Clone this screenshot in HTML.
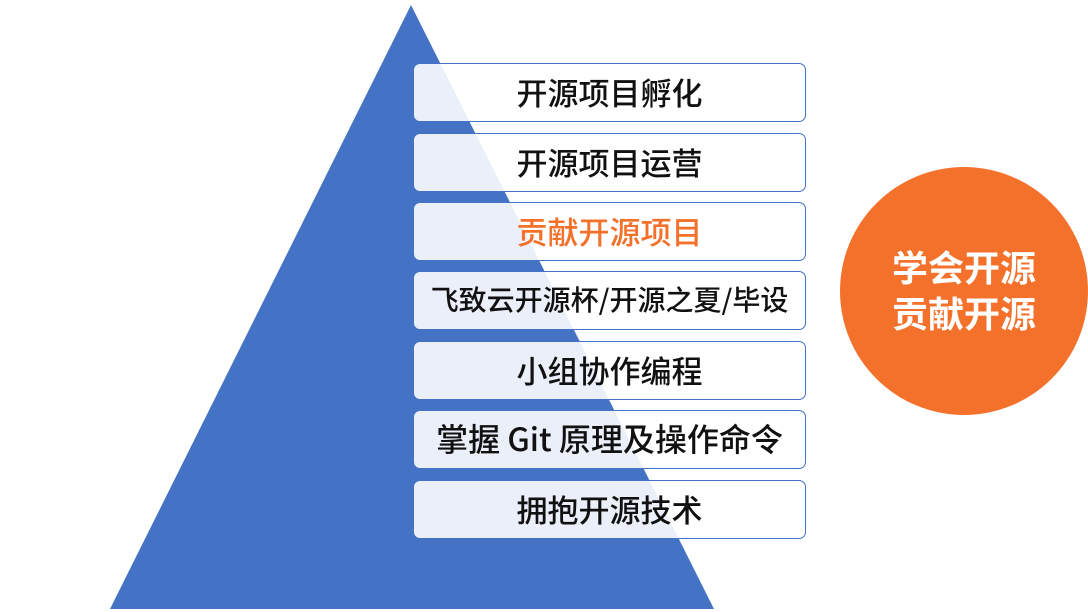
<!DOCTYPE html>
<html><head><meta charset="utf-8"><style>
body{margin:0;width:1088px;height:612px;background:#fff;position:relative;overflow:hidden;font-family:"Noto Sans CJK SC","Liberation Sans",sans-serif}
.b{position:absolute;left:413px;width:391px;height:57px;border:1.5px solid #4472C4;border-radius:7px;background:rgba(255,255,255,0.89);display:flex;align-items:center;justify-content:center;font-size:31px;font-weight:500;color:#111;box-sizing:content-box;white-space:nowrap;padding-bottom:3px;height:54px}
.c{position:absolute;left:840px;top:167px;width:248px;height:248px;border-radius:50%;background:#F4712C;color:#fff;font-size:36px;font-weight:700;line-height:46px;display:flex;align-items:center;justify-content:center;text-align:center;padding-bottom:4px;box-sizing:border-box}
</style></head><body>
<svg width="1088" height="612" style="position:absolute;left:0;top:0"><polygon points="411,5 110,609 714,609" fill="#4472C4"/></svg>
<div class="b" style="top:63px">开源项目孵化</div>
<div class="b" style="top:133px">开源项目运营</div>
<div class="b" style="top:202px;color:#F4712C">贡献开源项目</div>
<div class="b" style="top:271px;font-size:28px">飞致云开源杯/开源之夏/毕设</div>
<div class="b" style="top:341px">小组协作编程</div>
<div class="b" style="top:410px;font-size:32px">掌握 Git 原理及操作命令</div>
<div class="b" style="top:480px">拥抱开源技术</div>
<div class="c">学会开源<br>贡献开源</div>
</body></html>
